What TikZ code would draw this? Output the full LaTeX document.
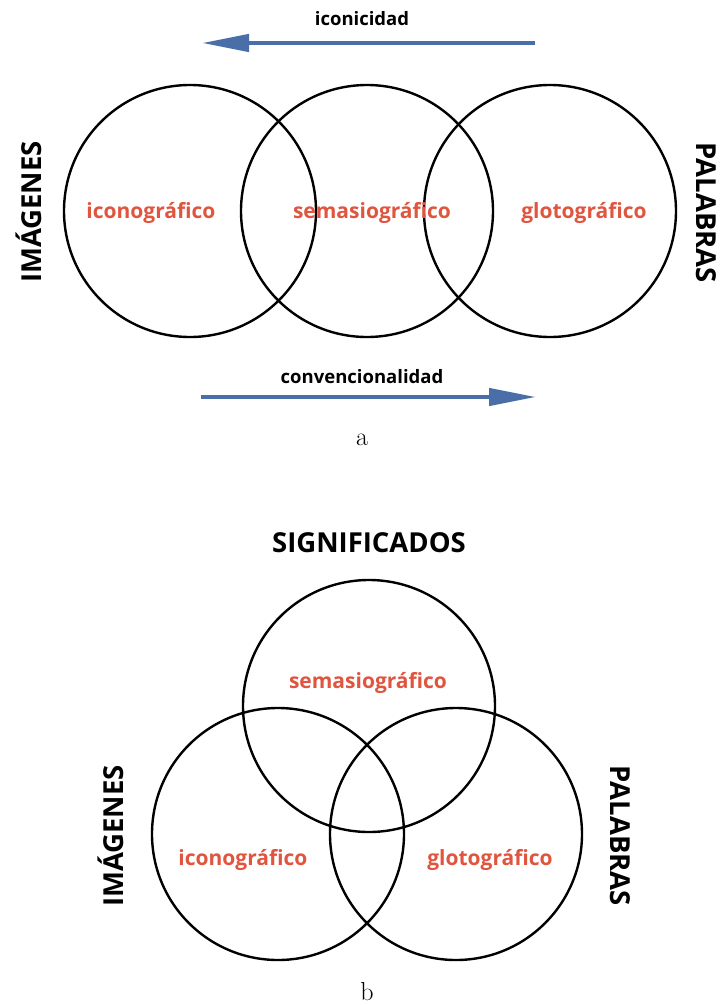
\documentclass[tikz,border=0pt]{standalone}
\usepackage{fontspec}
\newfontfamily\labelfont{Open Sans}
\usetikzlibrary{arrows.meta}
\definecolor{arrowblue}{HTML}{4A6FA8}
\definecolor{labelred}{HTML}{E0553F}
\tikzset{
  venn/.style={draw=black, line width=2.4pt, circle, minimum size=252pt, inner sep=0pt},
  region/.style={text=labelred, font=\labelfont\bfseries\fontsize{21}{23}\selectfont, inner sep=0pt},
  side/.style={font=\labelfont\bfseries\fontsize{27.5}{30}\selectfont, inner sep=0pt},
  axislabel/.style={font=\labelfont\bfseries\fontsize{18.5}{20}\selectfont, inner sep=0pt},
  caption/.style={font=\fontsize{26}{28}\selectfont, inner sep=0pt},
  bluearrow/.style={draw=arrowblue, line width=4.5pt, -{Triangle[length=47pt,width=17pt]}},
}
\begin{document}
\begin{tikzpicture}[x=1pt,y=-1pt]
\useasboundingbox (0,0) rectangle (721,1005);
% ---- part a ----
\node[venn] (c1) at (190,211) {};
\node[venn] (c2) at (367,211) {};
\node[venn] (c3) at (550,211) {};
\node[region] (r1) at (151,213) {iconográfico};
\node[region] (r2) at (372,213) {semasiográfico};
\node[region] (r3) at (584,213) {glotográfico};
\node[side, rotate=90] (img1) at (29,212) {IMÁGENES};
\node[side, rotate=-90] (pal1) at (706,213) {PALABRAS};
\node[axislabel] (ico) at (362,19) {iconicidad};
\coordinate (ia) at (535,43);
\coordinate (ib) at (202,43);
\draw[bluearrow] (ia) -- (ib);
\node[axislabel] (conv) at (362,377) {convencionalidad};
\coordinate (ca) at (201,397);
\coordinate (cb) at (536,397);
\draw[bluearrow] (ca) -- (cb);
\node[caption] (capa) at (362,440) {a};
% ---- part b ----
\node[side] (sig) at (369,543) {SIGNIFICADOS};
\node[venn] (d1) at (369,706) {};
\node[venn] (d2) at (278,834) {};
\node[venn] (d3) at (456,834) {};
\node[region] (s1) at (368,683) {semasiográfico};
\node[region] (s2) at (243,860) {iconográfico};
\node[region] (s3) at (490,860) {glotográfico};
\node[side, rotate=90] (img2) at (111,836) {IMÁGENES};
\node[side, rotate=-90] (pal2) at (620,836) {PALABRAS};
\node[caption] (capb) at (367,992) {b};
\end{tikzpicture}
\end{document}
